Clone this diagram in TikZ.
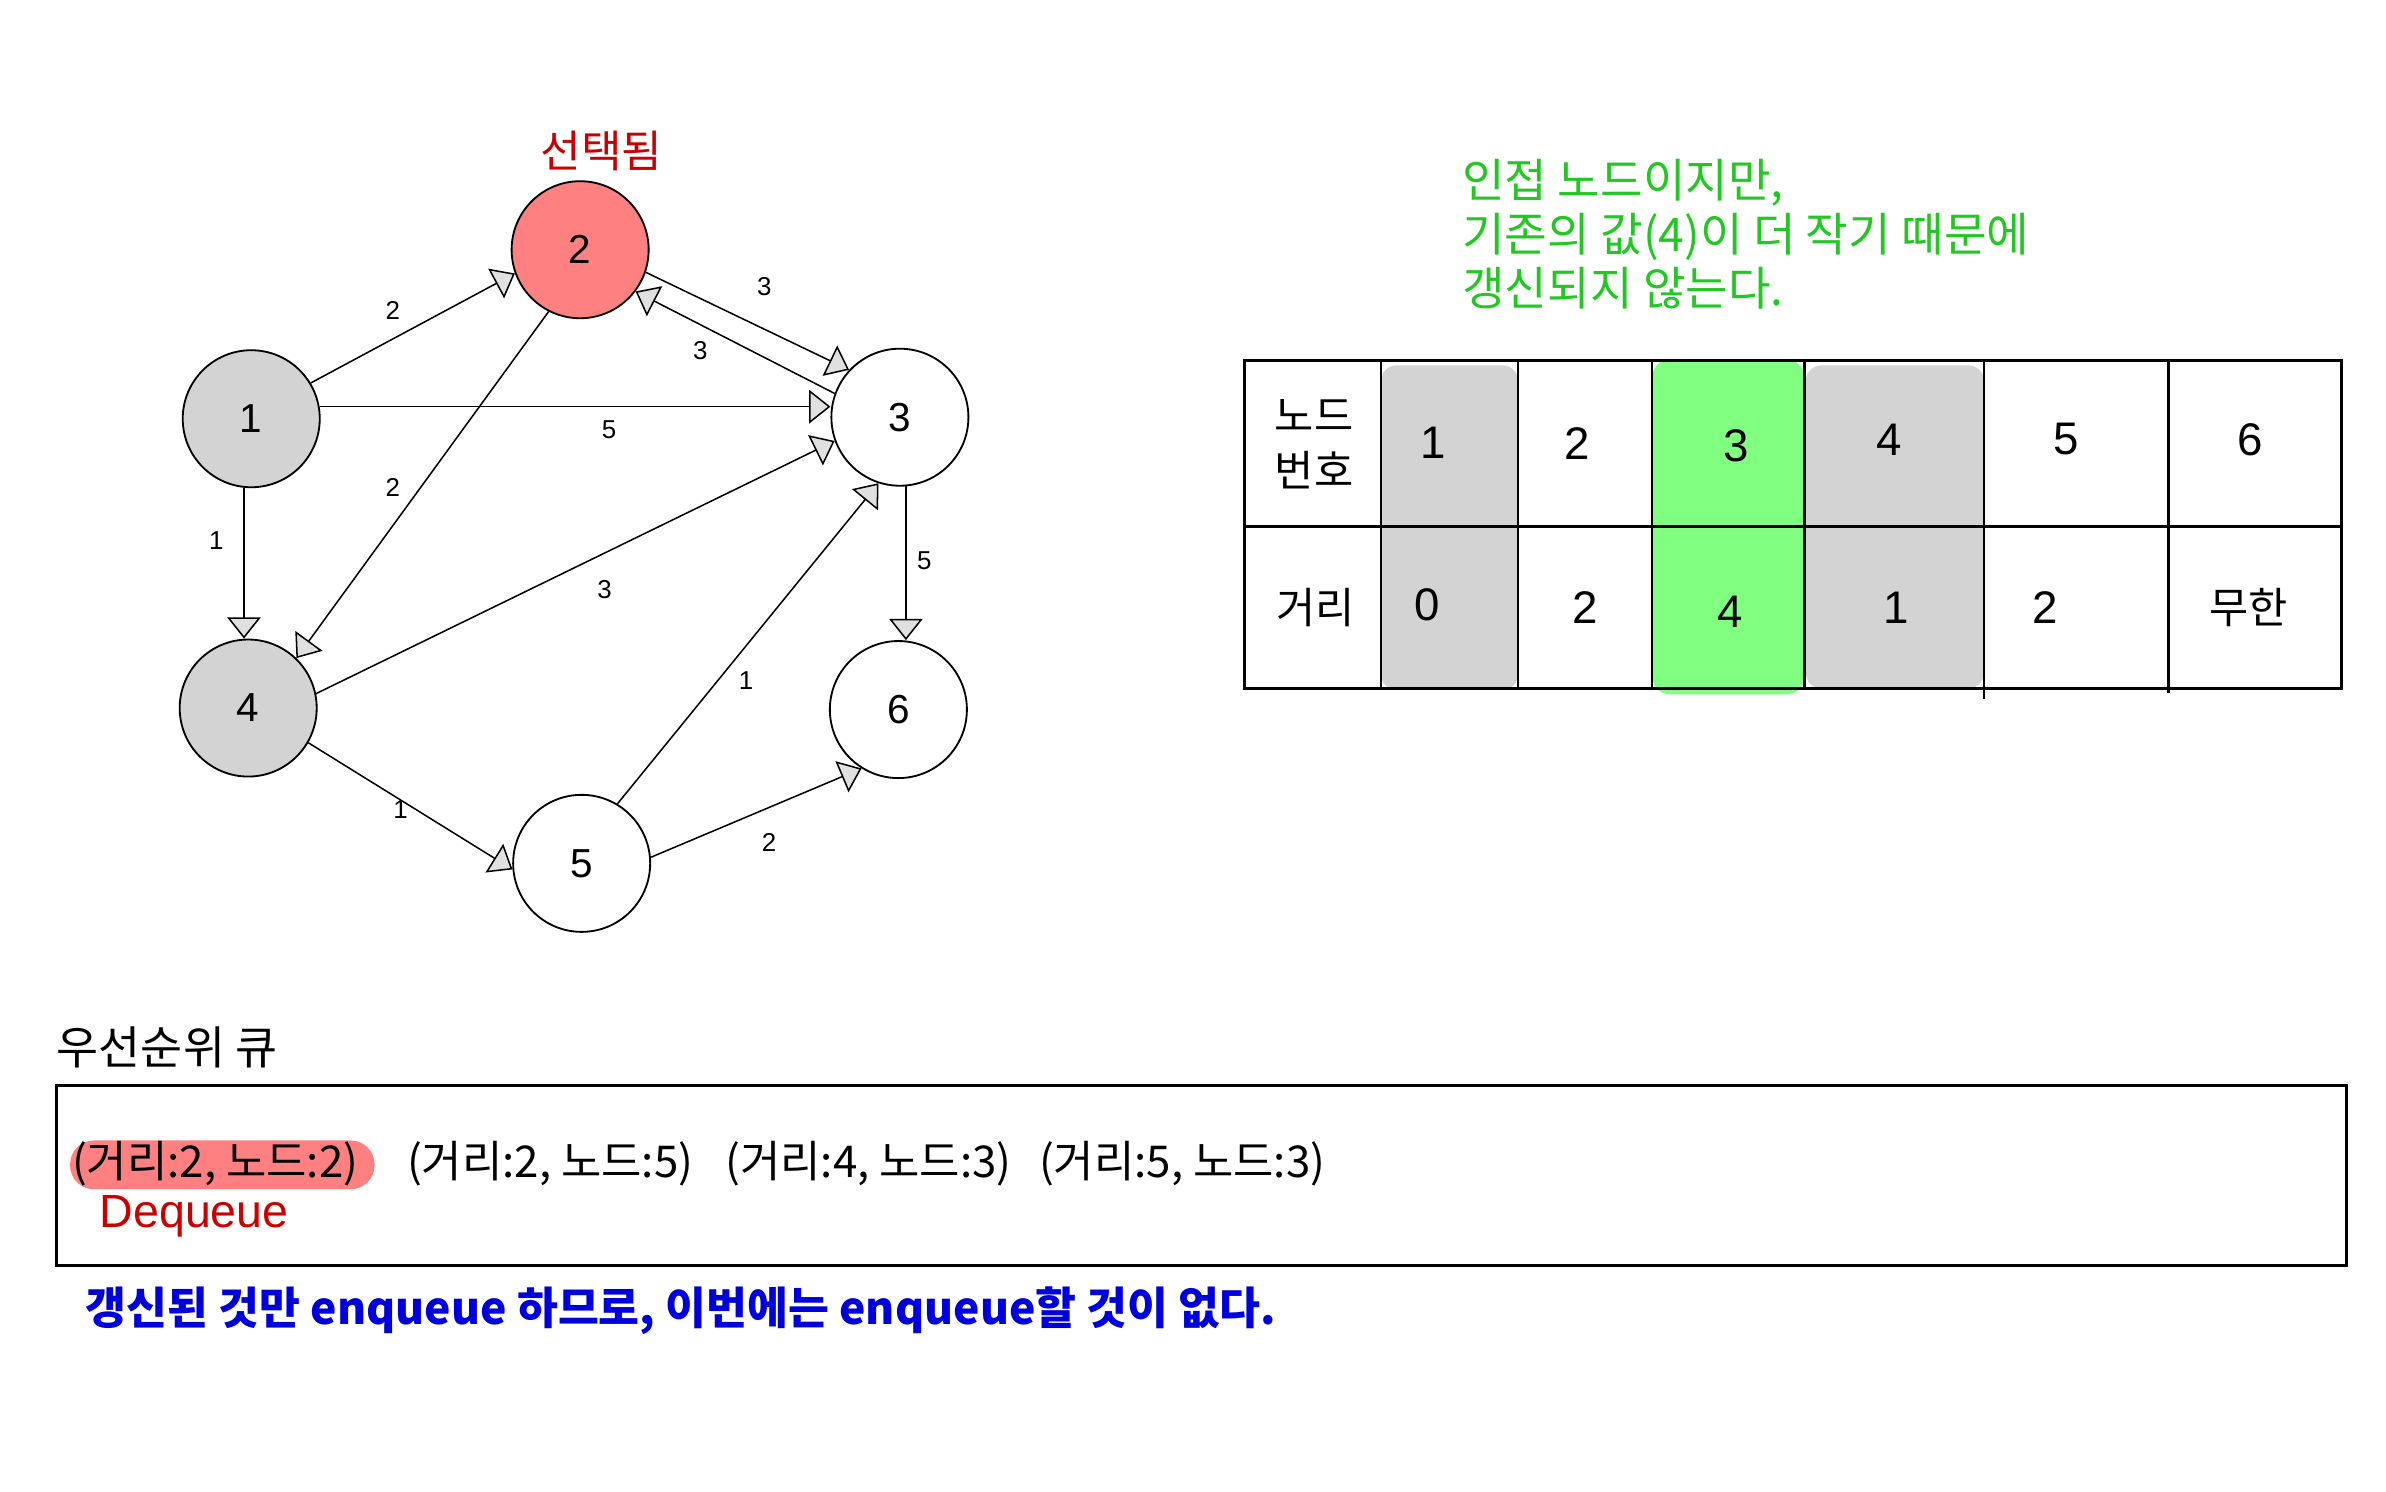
\documentclass[tikz,border=0pt]{standalone}
\usepackage{fontspec}
\setmainfont{Liberation Sans}
\newfontfamily\kr{Noto Sans CJK KR}
\usetikzlibrary{arrows.meta}
\definecolor{selred}{RGB}{255,128,128}
\definecolor{visgray}{RGB}{211,211,211}
\definecolor{hlgreen}{RGB}{128,255,128}
\definecolor{txtgreen}{RGB}{34,200,34}
\definecolor{txtred}{RGB}{204,0,0}
\definecolor{txtblue}{RGB}{0,0,220}
\tikzset{
  vtx/.style={circle,draw,line width=0.6pt,minimum size=45pt,inner sep=0pt,font=\fontsize{13.3}{16}\selectfont},
  edge/.style={line width=0.5pt,-{Triangle[length=7pt,width=11pt,fill=visgray!70]}},
  elab/.style={font=\fontsize{8.5}{10}\selectfont,inner sep=0pt},
  cell/.style={font=\fontsize{15}{18}\selectfont,inner sep=0pt},
  krcell/.style={font=\kr\fontsize{14}{18}\selectfont,inner sep=0pt,align=center},
  qitem/.style={font=\kr\fontsize{14.4}{17}\selectfont,inner sep=0pt,anchor=west},
  tline/.style={line width=1pt},
}
\begin{document}
\begin{tikzpicture}[x=0.5pt,y=-0.5pt]
\useasboundingbox (0,0) rectangle (1567,979.5);
% ---------- graph ----------
\node[txtred,font=\kr\fontsize{14.5}{16}\selectfont,inner sep=0pt] (sel) at (395,99) {선택됨};
\node[vtx,fill=visgray] (n1) at (165,275) {1};
\node[vtx,fill=selred]  (n2) at (381,164) {2};
\node[vtx] (n3) at (591,274) {3};
\node[vtx,fill=visgray] (n4) at (163,465) {4};
\node[vtx] (n5) at (382,567) {5};
\node[vtx] (n6) at (590,466) {6};

\draw[edge] (n1.31) -- (n2.200);
\draw[edge] (n2.-19) -- (n3.137);
\draw[edge] (n3.160) -- (n2.-37);
\draw[edge] (n1.10) -- (n1.10 -| n3.west);
\draw[edge] (n1.-96) -- (n1.-96 |- n4.north);
\draw[edge] (n2.243) -- (n4.46);
\draw[edge] (n4.12) -- (n3.200);
\draw[edge] (n5.59) -- (n3.252);
\draw[edge] (n3.-85) -- (n3.-85 |- n6.north);
\draw[edge] (n4.-30) -- (n5.185);
\draw[edge] (n5.5) -- (n6.238);

\node[elab] (l12) at (258,204) {2};
\node[elab] (l23) at (502,188) {3};
\node[elab] (l32) at (460,230) {3};
\node[elab] (l13) at (400,282) {5};
\node[elab] (l24) at (258,320) {2};
\node[elab] (l14) at (142,355) {1};
\node[elab] (l43) at (397,387) {3};
\node[elab] (l53) at (490,447) {1};
\node[elab] (l36) at (607,368) {5};
\node[elab] (l45) at (263,532) {1};
\node[elab] (l56) at (505,553) {2};

% ---------- green note ----------
\node[txtgreen,font=\kr\fontsize{15.2}{17.8}\selectfont,inner sep=0pt,anchor=north west,align=left] (note) at (960,104)
  {인접 노드이지만,\\기존의 값(4)이 더 작기 때문에\\갱신되지 않는다.};

% ---------- table ----------
\fill[visgray,rounded corners=5pt] (907,240) rectangle (997,453);
\fill[visgray,rounded corners=5pt] (1186,240) rectangle (1303,452);
\fill[hlgreen,rounded corners=6pt] (1085,236) rectangle (1185,456);
\draw[tline] (817,237) rectangle (1538,452);
\draw[tline] (817,346) -- (1538,346);
\draw[line width=0.8pt] (907,237) -- (907,452);
\draw[line width=0.8pt] (997,237) -- (997,452);
\draw[line width=0.8pt] (1085,237) -- (1085,452);
\draw[line width=0.8pt] (1185,237) -- (1185,452);
\draw[line width=0.8pt] (1303,237) -- (1303,459);
\draw[line width=0.8pt] (1424,237) -- (1424,455);

\node[krcell] (h1) at (863,292) {노드\\번호};
\node[cell] (c11) at (941,291) {1};
\node[cell] (c12) at (1036,291) {2};
\node[cell] (c13) at (1140,293) {3};
\node[cell] (c14) at (1241,289) {4};
\node[cell] (c15) at (1357,288) {5};
\node[cell] (c16) at (1478,289) {6};
\node[krcell] (h2) at (864,399) {거리};
\node[cell] (c21) at (937,397) {0};
\node[cell] (c22) at (1041,399) {2};
\node[cell] (c23) at (1136,402) {4};
\node[cell] (c24) at (1245,399) {1};
\node[cell] (c25) at (1343,399) {2};
\node[krcell] (c26) at (1477,399) {무한};

% ---------- priority queue ----------
\node[font=\kr\fontsize{15}{17}\selectfont,inner sep=0pt,anchor=west] (pqt) at (37,688) {우선순위 큐};
\draw[line width=1pt] (37,713) rectangle (1541,831);
\fill[selred,rounded corners=7.8pt] (46,749) rectangle (246,781);
\node[qitem] (q1) at (47,764) {(거리:2, 노드:2)};
\node[qitem] (q2) at (267,764) {(거리:2, 노드:5)};
\node[qitem] (q3) at (476,764) {(거리:4, 노드:3)};
\node[qitem] (q4) at (682,764) {(거리:5, 노드:3)};
\node[txtred,font=\fontsize{15.3}{17}\selectfont,inner sep=0pt,anchor=west] (deq) at (65,799) {Dequeue};

\node[txtblue,font=\kr\bfseries\fontsize{14.6}{17}\selectfont,inner sep=0pt,anchor=west] (msg) at (56,861)
  {갱신된 것만 enqueue 하므로, 이번에는 enqueue할 것이 없다.};
\end{tikzpicture}
\end{document}
